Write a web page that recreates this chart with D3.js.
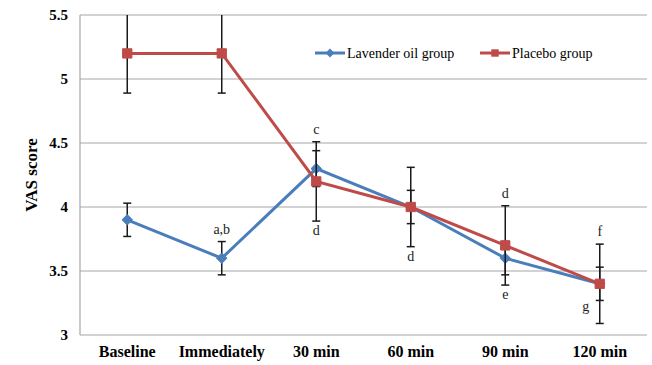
<!DOCTYPE html>
<html>
<head>
<meta charset="utf-8">
<script src="https://cdn.jsdelivr.net/npm/d3@7"></script>
<style>
  body { margin: 0; background: #fff; }
  svg text { font-family: "Liberation Serif"; }
</style>
</head>
<body>
<svg id="chart" width="652" height="365"></svg>
<script>
// categories and values
const times = ["Baseline", "Immediately", "30 min", "60 min", "90 min", "120 min"];
const lavender = [3.9, 3.6, 4.3, 4.0, 3.6, 3.4];
const lavenderSd = [0.13, 0.13, 0.14, 0.13, 0.13, 0.13];
const placebo = [5.2, 5.2, 4.2, 4.0, 3.7, 3.4];
const placeboSd = [0.31, 0.31, 0.31, 0.31, 0.31, 0.31];
const yTicks = [3, 3.5, 4, 4.5, 5, 5.5];
// significance letters: [category, text, placement, series]
const notes = [
  ["Immediately", "a,b", "above", "lav"],
  ["30 min", "c", "above", "pla"],
  ["30 min", "d", "below", "pla"],
  ["60 min", "d", "below", "pla"],
  ["90 min", "d", "above", "pla"],
  ["90 min", "e", "below", "pla"],
  ["120 min", "f", "above", "pla"],
  ["120 min", "g", "left", "pla"]
];

const svg = d3.select("#chart");
const margin = {top: 15, right: 5, bottom: 30, left: 80};
const W = 652, H = 365;

const x = d3.scaleBand().domain(times).range([margin.left, W - margin.right]);
const y = d3.scaleLinear().domain([3, 5.5]).range([H - margin.bottom, margin.top]);
const cx = d => x(d) + x.bandwidth() / 2;

// grid lines
svg.append("g").selectAll("line").data(yTicks).join("line")
  .attr("x1", margin.left).attr("x2", W - margin.right)
  .attr("y1", d => y(d)).attr("y2", d => y(d))
  .attr("stroke", "#a6a6a6").attr("stroke-width", 1.2);

svg.append("line")
  .attr("x1", margin.left).attr("x2", margin.left)
  .attr("y1", y(5.5)).attr("y2", y(3))
  .attr("stroke", "#a6a6a6").attr("stroke-width", 1.2);

// y axis labels
svg.append("g").selectAll("text").data(yTicks).join("text")
  .attr("x", margin.left - 12).attr("y", d => y(d))
  .attr("dy", "0.35em").attr("text-anchor", "end")
  .attr("font-size", 15).attr("font-weight", "bold")
  .text(d => d);

// x axis labels
svg.append("g").selectAll("text").data(times).join("text")
  .attr("x", d => cx(d)).attr("y", H - 8)
  .attr("text-anchor", "middle")
  .attr("font-size", 16).attr("font-weight", "bold")
  .text(d => d);

svg.append("text")
  .attr("transform", `translate(37,${(y(3) + y(5.5)) / 2}) rotate(-90)`)
  .attr("text-anchor", "middle")
  .attr("font-size", 17).attr("font-weight", "bold")
  .text("VAS score");

const line = d3.line().x(d => cx(d.t)).y(d => y(d.v));

function drawSeries(vals, sds, color, shape) {
  const data = times.map((t, i) => ({t, v: vals[i], sd: sds[i]}));
  const g = svg.append("g");
  g.append("path").datum(data)
    .attr("d", line).attr("fill", "none")
    .attr("stroke", color).attr("stroke-width", 3);
  const eb = g.append("g").attr("stroke", "#1a1a1a").attr("stroke-width", 1.5);
  data.forEach(d => {
    const top = Math.min(d.v + d.sd, 5.5);
    const bot = d.v - d.sd;
    eb.append("line").attr("x1", cx(d.t)).attr("x2", cx(d.t))
      .attr("y1", y(top)).attr("y2", y(bot));
    eb.append("line").attr("x1", cx(d.t) - 4).attr("x2", cx(d.t) + 4)
      .attr("y1", y(bot)).attr("y2", y(bot));
    if (d.v + d.sd <= 5.5) {
      eb.append("line").attr("x1", cx(d.t) - 4).attr("x2", cx(d.t) + 4)
        .attr("y1", y(top)).attr("y2", y(top));
    }
  });
  g.selectAll(".m").data(data).join("path")
    .attr("transform", d => `translate(${cx(d.t)},${y(d.v)})`)
    .attr("d", d3.symbol().type(shape === "diamond" ? d3.symbolDiamond2 : d3.symbolSquare2).size(shape === "diamond" ? 70 : 110))
    .attr("fill", color).attr("stroke", color);
}

const blue = "#4a7ebb", red = "#be4b48";
drawSeries(lavender, lavenderSd, blue, "diamond");
drawSeries(placebo, placeboSd, red, "square");

// note letters
const noteG = svg.append("g").attr("fill", "#222");
notes.forEach(([t, txt, pos, ser]) => {
  const i = times.indexOf(t);
  const v = ser === "lav" ? lavender[i] : placebo[i];
  const sd = ser === "lav" ? lavenderSd[i] : placeboSd[i];
  let xx = cx(t), yy;
  if (pos === "above") yy = y(v + sd) - 8;
  else if (pos === "below") yy = y(v - sd) + 14;
  else { xx = cx(t) - 14; yy = y(v - sd) - 12; }
  noteG.append("text").attr("x", xx).attr("y", yy)
    .attr("text-anchor", "middle").attr("font-size", 14)
    .text(txt);
});

// legend
const legend = [["Lavender oil group", blue, "diamond", 315], ["Placebo group", red, "square", 480]];
legend.forEach(([name, color, shape, lx]) => {
  const g = svg.append("g").attr("transform", `translate(${lx},53)`);
  g.append("line").attr("x1", 0).attr("x2", 30).attr("stroke", color).attr("stroke-width", 3);
  g.append("path").attr("transform", "translate(15,0)")
    .attr("d", d3.symbol().type(shape === "diamond" ? d3.symbolDiamond2 : d3.symbolSquare2).size(shape === "diamond" ? 50 : 70))
    .attr("fill", color);
  g.append("text").attr("x", 32).attr("dy", "0.35em").attr("font-size", 14).text(name);
});
</script>
</body>
</html>
